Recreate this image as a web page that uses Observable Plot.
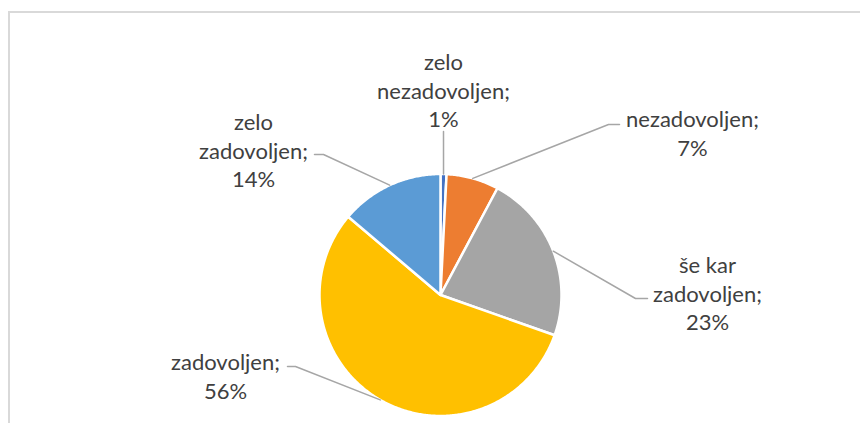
<!DOCTYPE html>
<html>
<head>
<meta charset="utf-8">
<script src="https://cdn.jsdelivr.net/npm/d3@7"></script>
<script src="https://cdn.jsdelivr.net/npm/@observablehq/plot@0.6"></script>
<style>
  html, body { margin: 0; padding: 0; background: white; }
</style>
</head>
<body>
<div id="chart"></div>
<script>
// ---- data ----
const categories = ["zelo nezadovoljen", "nezadovoljen", "še kar zadovoljen", "zadovoljen", "zelo zadovoljen"];
const values = [0.8, 7.0, 22.6, 55.8, 13.8];
const labelTexts = ["zelo\nnezadovoljen;\n1%", "nezadovoljen;\n7%", "še kar\nzadovoljen;\n23%", "zadovoljen;\n56%", "zelo\nzadovoljen;\n14%"];
const colors = ["#4472C4", "#ED7D31", "#A5A5A5", "#FFC000", "#5B9BD5"];

// ---- layout (pixel space) ----
const W = 860, H = 423;
const pie = {cx: 440, cy: 294.5, r: 121};
const labelPos = [[443, 89], [692, 132], [707, 292], [225, 375], [253, 149]];
const leaderStart = [
  [[443, 131]],
  [[619, 124], [608, 124]],
  [[647, 298], [635, 298]],
  [[287, 366], [295, 366]],
  [[314, 154], [323, 154]]
];

const arcs = d3.pie().sort(null).value(d => d)(values);
const pt = (a, r) => ({x: pie.cx + r * Math.sin(a), y: pie.cy - r * Math.cos(a)});

const slicePts = [];
arcs.forEach((a, i) => {
  const k = categories[i];
  slicePts.push({k, x: pie.cx, y: pie.cy});
  const n = Math.max(4, Math.ceil((a.endAngle - a.startAngle) / 0.01));
  for (let j = 0; j <= n; j++) {
    const ang = a.startAngle + (a.endAngle - a.startAngle) * j / n;
    const p = pt(ang, pie.r);
    slicePts.push({k, x: p.x, y: p.y});
  }
  slicePts.push({k, x: pie.cx, y: pie.cy});
});

const leaderPts = [];
arcs.forEach((a, i) => {
  const k = categories[i];
  leaderStart[i].forEach(([x, y]) => leaderPts.push({k, x, y}));
  const mid = (a.startAngle + a.endAngle) / 2;
  const p = pt(mid, pie.r);
  leaderPts.push({k, x: p.x, y: p.y});
});

const labelData = categories.map((k, i) => ({k, x: labelPos[i][0], y: labelPos[i][1], text: labelTexts[i]}));

const chart = Plot.plot({
  width: W,
  height: H,
  margin: 0,
  x: {domain: [0, W], range: [0, W], axis: null},
  y: {domain: [0, H], range: [0, H], axis: null},
  color: {domain: categories, range: colors},
  style: {fontFamily: "Lato, 'Noto Sans', sans-serif", fontSize: "22px", background: "white", color: "#404040"},
  marks: [
    Plot.ruleY([11.5], {x1: 8, x2: W, stroke: "#D9D9D9", strokeWidth: 2}),
    Plot.ruleX([8.5], {y1: 11, y2: H, stroke: "#D9D9D9", strokeWidth: 2}),
    Plot.line(slicePts, {x: "x", y: "y", z: "k", fill: "k", stroke: "white", strokeWidth: 2.5, strokeLinejoin: "round"}),
    Plot.line(leaderPts, {x: "x", y: "y", z: "k", stroke: "#A6A6A6", strokeWidth: 1.5}),
    Plot.text(labelData, {x: "x", y: "y", text: "text", textAnchor: "middle", lineHeight: 1.3, fill: "#404040", fontSize: 22})
  ]
});
document.getElementById("chart").appendChild(chart);
</script>
</body>
</html>
